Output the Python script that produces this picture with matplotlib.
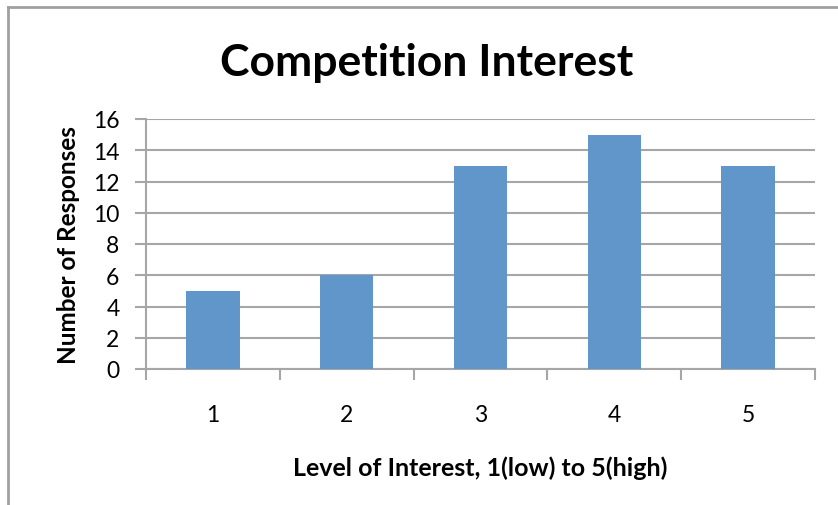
import matplotlib.pyplot as plt
from matplotlib.lines import Line2D

levels = ['1', '2', '3', '4', '5']
responses = [5, 6, 13, 15, 13]
y_ticks = [0, 2, 4, 6, 8, 10, 12, 14, 16]

plt.rcParams['font.family'] = ['Lato', 'DejaVu Sans']

grid_color = '#a6a6a6'
bar_color = '#6096c9'

fig = plt.figure(figsize=(8.38, 5.06), dpi=100)
ax = fig.add_axes([146/838, 1 - 370/506, 669/838, 250/506])

x = list(range(1, len(levels) + 1))
ax.bar(x, responses, width=0.4, color=bar_color, zorder=3)

ax.set_xlim(0.5, len(levels) + 0.5)
ax.set_ylim(0, 16)
ax.set_yticks(y_ticks)
ax.set_xticks(x)
ax.set_xticklabels(levels)
ax.set_xticks([i + 0.5 for i in range(0, len(levels) + 1)], minor=True)

ax.grid(axis='y', color=grid_color, linewidth=1.5, zorder=0)
for side in ['top', 'right']:
    ax.spines[side].set_visible(False)
for side in ['left', 'bottom']:
    ax.spines[side].set_color(grid_color)
    ax.spines[side].set_linewidth(1.5)

ax.tick_params(axis='y', length=8, width=1.5, color=grid_color, labelsize=16.5, pad=11)
ax.tick_params(axis='x', which='major', length=0, labelsize=16.5, pad=25)
ax.tick_params(axis='x', which='minor', length=8, width=1.5, color=grid_color)

ax.set_ylabel('Number of Responses', fontsize=17.5, fontweight='bold', labelpad=9)
ax.set_xlabel('Level of Interest, 1(low) to 5(high)', fontsize=18, fontweight='bold', labelpad=22)
fig.text(427/838, 1 - 63/506, 'Competition Interest', ha='center', va='center',
         fontsize=32, fontweight='bold')

# chart frame (only top and left edges visible)
fig.add_artist(Line2D([8/838, 1], [1 - 8/506, 1 - 8/506], color='#a0a0a0', linewidth=2,
                      transform=fig.transFigure))
fig.add_artist(Line2D([8/838, 8/838], [0, 1 - 8/506], color='#a0a0a0', linewidth=2,
                      transform=fig.transFigure))

fig.savefig('out.png', dpi=100)
